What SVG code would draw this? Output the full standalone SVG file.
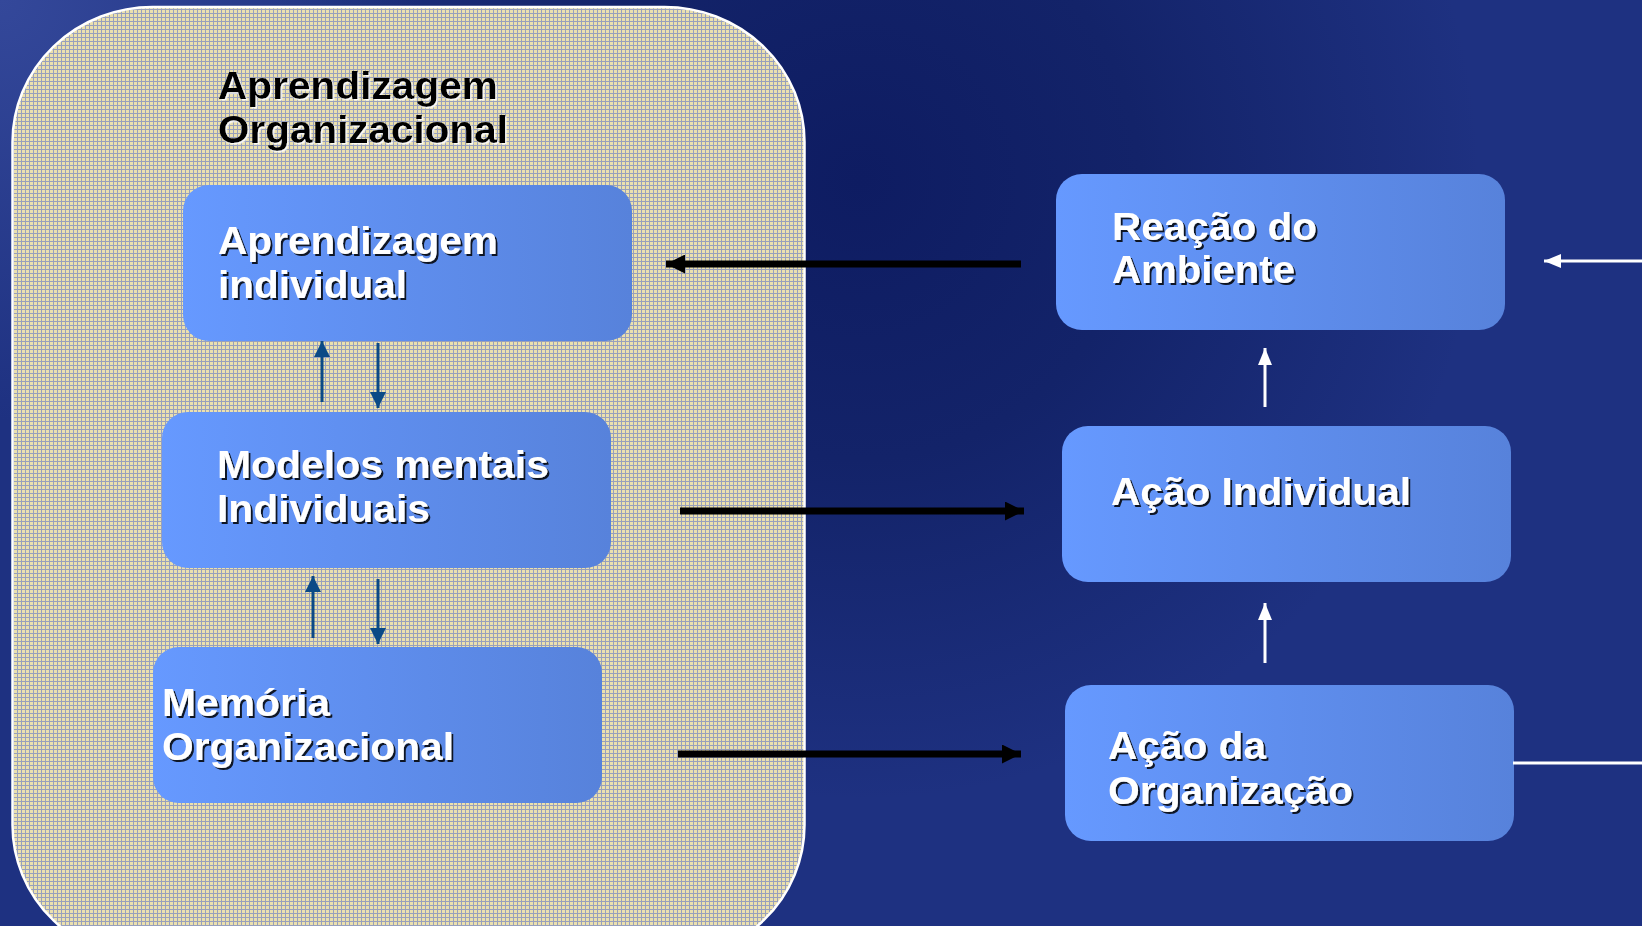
<svg xmlns="http://www.w3.org/2000/svg" width="1642" height="926" viewBox="0 0 1642 926">
  <defs>
    <radialGradient id="bgDark" cx="860" cy="180" r="620" gradientUnits="userSpaceOnUse">
      <stop offset="0" stop-color="#0e1c62"/>
      <stop offset="0.45" stop-color="#132369"/>
      <stop offset="1" stop-color="#132369" stop-opacity="0"/>
    </radialGradient>
    <radialGradient id="bgLight" cx="0" cy="0" r="420" gradientUnits="userSpaceOnUse">
      <stop offset="0" stop-color="#34489a"/>
      <stop offset="1" stop-color="#34489a" stop-opacity="0"/>
    </radialGradient>
    <linearGradient id="boxFill" x1="0" y1="0" x2="1" y2="0">
      <stop offset="0" stop-color="#6699ff"/>
      <stop offset="1" stop-color="#5782db"/>
    </linearGradient>
    <pattern id="canvas" width="4" height="4" patternUnits="userSpaceOnUse">
      <rect width="4" height="4" fill="#ebe0ae"/>
      <rect x="1" width="1" height="4" fill="#98a0bc"/>
      <rect y="1" width="4" height="1" fill="#98a0bc"/>
    </pattern>
    <filter id="shadowDark" x="-5%" y="-20%" width="115%" height="150%">
      <feDropShadow dx="2" dy="2" stdDeviation="0.4" flood-color="#000000" flood-opacity="0.85"/>
    </filter>
    <filter id="shadowLight" x="-5%" y="-20%" width="115%" height="150%">
      <feDropShadow dx="1.5" dy="1.5" stdDeviation="0.3" flood-color="#ffffff" flood-opacity="0.9"/>
    </filter>
    <marker id="headBlack" viewBox="0 0 19 19" refX="19" refY="9.5" markerUnits="userSpaceOnUse" markerWidth="19" markerHeight="19" orient="auto">
      <path d="M0,0 L19,9.5 L0,19 Z" fill="#000000"/>
    </marker>
    <marker id="headBlue" viewBox="0 0 16 16" refX="16" refY="8" markerUnits="userSpaceOnUse" markerWidth="16" markerHeight="16" orient="auto">
      <path d="M0,0 L16,8 L0,16 Z" fill="#0b4a86"/>
    </marker>
    <marker id="headWhite" viewBox="0 0 17 14" refX="17" refY="7" markerUnits="userSpaceOnUse" markerWidth="17" markerHeight="14" orient="auto">
      <path d="M0,0 L17,7 L0,14 Z" fill="#ffffff"/>
    </marker>
  </defs>
  <style>
    .box { fill: url(#boxFill); }
    .lbl { font-family: "Liberation Sans", Arial, sans-serif; font-weight: bold; font-size: 38px; fill: #ffffff; filter: url(#shadowDark); }
    .title { font-family: "Liberation Sans", Arial, sans-serif; font-weight: bold; font-size: 38px; fill: #000000; filter: url(#shadowLight); }
    .blk { stroke: #000000; stroke-width: 7; fill: none; marker-end: url(#headBlack); }
    .blu { stroke: #0b4a86; stroke-width: 3; fill: none; marker-end: url(#headBlue); }
    .wht { stroke: #ffffff; stroke-width: 3; fill: none; }
  </style>

  <rect x="0" y="0" width="1642" height="926" fill="#1e3181"/>
  <rect x="0" y="0" width="1642" height="926" fill="url(#bgDark)"/>
  <rect x="0" y="0" width="1642" height="926" fill="url(#bgLight)"/>

  <g id="container">
    <rect x="12.5" y="7" width="792" height="953" rx="140" ry="135" fill="url(#canvas)" stroke="#ffffff" stroke-width="2.5"/>
    <text class="title" x="218" y="99" textLength="280" lengthAdjust="spacingAndGlyphs">Aprendizagem</text>
    <text class="title" x="218" y="143" textLength="290" lengthAdjust="spacingAndGlyphs">Organizacional</text>
  </g>

  <g id="node-aprendizagem-individual">
    <rect class="box" x="183" y="185" width="449" height="156" rx="26"/>
    <text class="lbl" x="218" y="254" textLength="280" lengthAdjust="spacingAndGlyphs">Aprendizagem</text>
    <text class="lbl" x="218" y="298" textLength="189" lengthAdjust="spacingAndGlyphs">individual</text>
  </g>

  <g id="node-modelos-mentais">
    <rect class="box" x="162" y="412" width="449" height="156" rx="26"/>
    <text class="lbl" x="217" y="478" textLength="332" lengthAdjust="spacingAndGlyphs">Modelos mentais</text>
    <text class="lbl" x="217" y="522" textLength="213" lengthAdjust="spacingAndGlyphs">Individuais</text>
  </g>

  <g id="node-memoria">
    <rect class="box" x="153" y="647" width="449" height="156" rx="26"/>
    <text class="lbl" x="162" y="716" textLength="168" lengthAdjust="spacingAndGlyphs">Memória</text>
    <text class="lbl" x="162" y="760" textLength="292" lengthAdjust="spacingAndGlyphs">Organizacional</text>
  </g>

  <g id="node-reacao-ambiente">
    <rect class="box" x="1056" y="174" width="449" height="156" rx="26"/>
    <text class="lbl" x="1112" y="240" textLength="205" lengthAdjust="spacingAndGlyphs">Reação do</text>
    <text class="lbl" x="1112" y="283" textLength="183" lengthAdjust="spacingAndGlyphs">Ambiente</text>
  </g>

  <g id="node-acao-individual">
    <rect class="box" x="1062" y="426" width="449" height="156" rx="26"/>
    <text class="lbl" x="1111" y="505" textLength="300" lengthAdjust="spacingAndGlyphs">Ação Individual</text>
  </g>

  <g id="node-acao-organizacao">
    <rect class="box" x="1065" y="685" width="449" height="156" rx="26"/>
    <text class="lbl" x="1108" y="759" textLength="158" lengthAdjust="spacingAndGlyphs">Ação da</text>
    <text class="lbl" x="1108" y="804" textLength="245" lengthAdjust="spacingAndGlyphs">Organização</text>
  </g>

  <g id="connectors">
    <line class="blk" x1="1021" y1="264" x2="666" y2="264"/>
    <line class="blk" x1="680" y1="511" x2="1024" y2="511"/>
    <line class="blk" x1="678" y1="754" x2="1021" y2="754"/>

    <line class="blu" x1="322" y1="402" x2="322" y2="341"/>
    <line class="blu" x1="378" y1="343" x2="378" y2="408"/>
    <line class="blu" x1="313" y1="638" x2="313" y2="576"/>
    <line class="blu" x1="378" y1="579" x2="378" y2="644"/>

    <line class="wht" x1="1265" y1="407" x2="1265" y2="348" marker-end="url(#headWhite)"/>
    <line class="wht" x1="1265" y1="663" x2="1265" y2="603" marker-end="url(#headWhite)"/>
    <line class="wht" x1="1642" y1="261" x2="1544" y2="261" stroke-width="2.5" marker-end="url(#headWhite)"/>
    <line class="wht" x1="1513" y1="763" x2="1642" y2="763" stroke-width="2.5"/>
  </g>
</svg>
